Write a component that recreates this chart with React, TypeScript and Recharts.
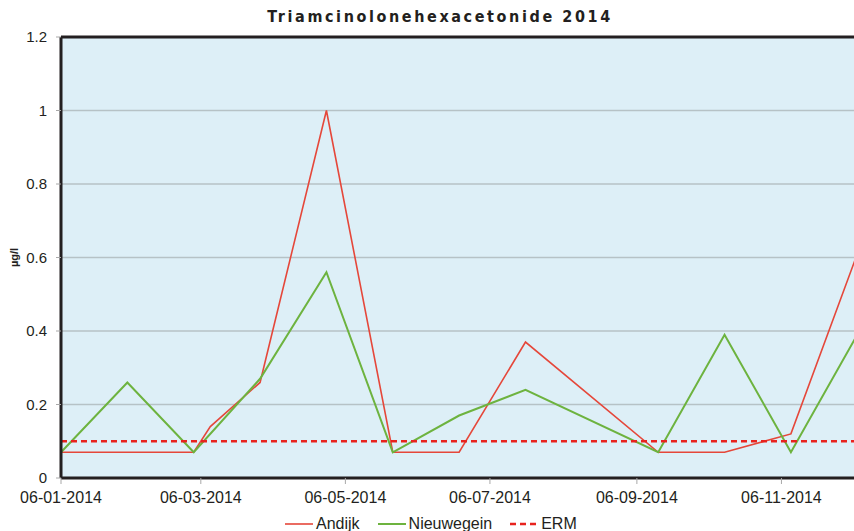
import React from 'react';
import { LineChart, Line, XAxis, YAxis, CartesianGrid, Legend, ReferenceLine } from 'recharts';

// sample dates and measured values (µg/l)
const andijkDates = [
  '2014-01-06', '2014-02-03', '2014-03-03', '2014-03-10', '2014-03-31', '2014-04-28', '2014-05-26',
  '2014-06-23', '2014-07-21', '2014-09-15', '2014-10-13', '2014-11-10', '2014-12-08',
];
const andijkValues = [0.07, 0.07, 0.07, 0.14, 0.26, 1.0, 0.07, 0.07, 0.37, 0.07, 0.07, 0.12, 0.61];

const nieuwegeinDates = [
  '2014-01-06', '2014-02-03', '2014-03-03', '2014-03-31', '2014-04-28', '2014-05-26',
  '2014-06-23', '2014-07-21', '2014-09-15', '2014-10-13', '2014-11-10', '2014-12-08',
];
const nieuwegeinValues = [0.07, 0.26, 0.07, 0.27, 0.56, 0.07, 0.17, 0.24, 0.07, 0.39, 0.07, 0.39];

const ermValue = 0.1;
const axisRange = ['2014-01-06', '2015-01-06'];
const xTickDates = ['2014-01-06', '2014-03-06', '2014-05-06', '2014-07-06', '2014-09-06', '2014-11-06'];
const yTicks = [0, 0.2, 0.4, 0.6, 0.8, 1, 1.2];

const toTime = (d: string) => Date.parse(d + 'T00:00:00Z');
const fmtDate = (t: number) => {
  const d = new Date(t);
  const p = (n: number) => String(n).padStart(2, '0');
  return `${p(d.getUTCDate())}-${p(d.getUTCMonth() + 1)}-${d.getUTCFullYear()}`;
};

const andijkData = andijkDates.map((d, i) => ({ t: toTime(d), v: andijkValues[i] }));
const nieuwegeinData = nieuwegeinDates.map((d, i) => ({ t: toTime(d), v: nieuwegeinValues[i] }));
const ermData = axisRange.map(d => ({ t: toTime(d), v: ermValue }));

const FONT = '"Liberation Sans", Arial, sans-serif';
const INK = '#231F20';

const seriesStyle: Record<string, { color: string; width: number; dash?: string }> = {
  Andijk: { color: '#E5473A', width: 1.6 },
  Nieuwegein: { color: '#6DB33F', width: 2 },
  ERM: { color: '#E8231E', width: 2.5, dash: '6 4' },
};

const LegendContent = () => (
  <div style={{ display: 'flex', alignItems: 'center', fontFamily: FONT, fontSize: 16, color: INK, lineHeight: '18px' }}>
    {Object.keys(seriesStyle).map(name => {
      const s = seriesStyle[name];
      return (
        <div key={name} style={{ display: 'flex', alignItems: 'center', marginRight: 18 }}>
          <svg width={28} height={10} style={{ marginRight: 3 }}>
            <line x1={0} y1={5} x2={28} y2={5} stroke={s.color} strokeWidth={s.width} strokeDasharray={s.dash} />
          </svg>
          <span>{name}</span>
        </div>
      );
    })}
  </div>
);

export default function App() {
  return (
    <div style={{ position: 'relative', width: 854, height: 531, overflow: 'hidden', background: '#fff' }}>
      <style>{'body { margin: 0; }'}</style>
      <div
        style={{
          position: 'absolute', top: 8, left: 0, width: 880, textAlign: 'center',
          fontFamily: '"DejaVu Sans Condensed", "DejaVu Sans", sans-serif', fontWeight: 700,
          fontSize: 16, letterSpacing: 2.6, color: INK, lineHeight: '17px',
        }}
      >
        Triamcinolonehexacetonide 2014
      </div>
      <LineChart width={948} height={531} margin={{ top: 37, right: 22, left: 16, bottom: 2 }}>
        <CartesianGrid vertical={false} fill="#DDEFF7" stroke="#B6C2C6" strokeWidth={1.5} />
        <XAxis
          dataKey="t"
          type="number"
          domain={axisRange.map(toTime)}
          ticks={xTickDates.map(toTime)}
          tickFormatter={fmtDate}
          allowDataOverflow
          height={33}
          tickSize={6}
          tickMargin={8}
          tickLine={{ stroke: '#A8A8A8' }}
          axisLine={{ stroke: INK, strokeWidth: 3 }}
          tick={{ fill: INK, fontSize: 16, fontFamily: FONT }}
        />
        <YAxis
          dataKey="v"
          type="number"
          domain={[0, 1.2]}
          ticks={yTicks}
          tickFormatter={(v: number) => String(+v.toFixed(1))}
          width={45}
          tickSize={5}
          tickMargin={9}
          tickLine={{ stroke: '#A8A8A8' }}
          axisLine={{ stroke: INK, strokeWidth: 3 }}
          tick={{ fill: INK, fontSize: 15, fontFamily: FONT }}
          label={{
            value: 'µg/l', angle: -90, position: 'insideLeft', offset: -2,
            style: { textAnchor: 'middle', fontFamily: FONT, fontSize: 11, fontWeight: 700, fill: INK },
          }}
        />
        <ReferenceLine y={1.2} stroke={INK} strokeWidth={3} />
        <Line data={andijkData} dataKey="v" name="Andijk" stroke={seriesStyle.Andijk.color} strokeWidth={seriesStyle.Andijk.width} dot={false} isAnimationActive={false} />
        <Line data={nieuwegeinData} dataKey="v" name="Nieuwegein" stroke={seriesStyle.Nieuwegein.color} strokeWidth={seriesStyle.Nieuwegein.width} dot={false} isAnimationActive={false} />
        <Line data={ermData} dataKey="v" name="ERM" stroke={seriesStyle.ERM.color} strokeWidth={seriesStyle.ERM.width} strokeDasharray={seriesStyle.ERM.dash} dot={false} isAnimationActive={false} />
        <Legend content={<LegendContent />} wrapperStyle={{ left: 285, width: 420, bottom: -2 }} />
      </LineChart>
    </div>
  );
}
